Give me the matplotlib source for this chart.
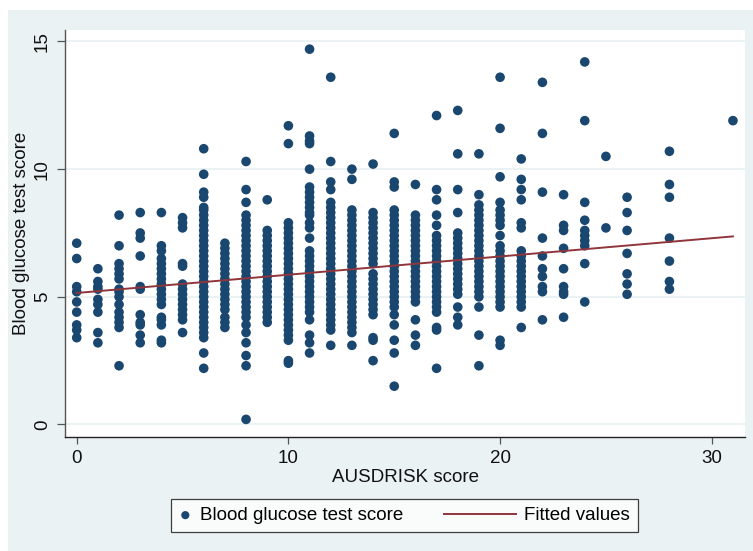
import numpy as np
import matplotlib
matplotlib.use("Agg")
import matplotlib.pyplot as plt
from matplotlib.patches import Rectangle
from matplotlib.lines import Line2D
from matplotlib.legend_handler import HandlerBase

# ---------------- data ----------------
scores = [0, 1, 2, 3, 4, 5, 6, 7, 8, 9, 10, 11, 12, 13, 14, 15, 16, 17, 18, 19,
          20, 21, 22, 23, 24, 25, 26, 28, 31]

glucose = [
    [7.1, 6.5, 5.4, 5.2, 4.8, 4.4, 3.9, 3.7, 3.4],
    [6.1, 5.6, 5.4, 5.3, 4.9, 4.7, 4.4, 3.6, 3.2],
    [8.2, 7.0, 6.3, 6.1, 5.9, 5.7, 5.3, 5.2, 5.0, 4.7, 4.4, 4.2, 4.0, 3.8, 2.3],
    [8.3, 7.5, 7.3, 6.6, 5.4, 5.3, 4.3, 4.0, 3.9, 3.5, 3.2],
    [8.3, 7.0, 6.8, 6.5, 6.3, 6.1, 5.9, 5.7, 5.5, 5.3, 5.1, 4.9, 4.7, 4.2, 4.1, 3.9, 3.3, 3.2],
    [8.1, 7.9, 7.7, 6.3, 6.2, 5.5, 5.3, 5.1, 4.9, 4.7, 4.5, 4.3, 4.1, 3.6],
    [10.8, 9.8, 9.1, 8.9, 8.5, 8.4, 8.2, 8.0, 7.8, 7.6, 7.4, 7.2, 7.0, 6.8, 6.6, 6.4, 6.2,
     6.0, 5.8, 5.6, 5.4, 5.2, 5.0, 4.8, 4.6, 4.4, 4.2, 4.0, 3.8, 3.6, 3.4, 2.8, 2.2],
    [7.1, 6.9, 6.7, 6.5, 6.3, 6.1, 5.9, 5.7, 5.5, 5.3, 5.1, 4.9, 4.7, 4.5, 4.2, 4.0, 3.8],
    [10.3, 9.2, 8.7, 8.2, 8.0, 7.8, 7.6, 7.4, 7.2, 7.0, 6.8, 6.6, 6.4, 6.2, 6.0, 5.8, 5.6,
     5.4, 5.2, 5.0, 4.8, 4.6, 4.4, 4.2, 3.9, 3.6, 3.2, 2.7, 2.3, 0.2],
    [8.8, 7.6, 7.4, 7.2, 7.0, 6.8, 6.6, 6.4, 6.2, 6.0, 5.8, 5.6, 5.4, 5.2, 5.0, 4.8, 4.6,
     4.4, 4.2, 4.0],
    [11.7, 11.0, 7.9, 7.7, 7.5, 7.3, 7.1, 6.9, 6.7, 6.5, 6.3, 6.1, 5.9, 5.7, 5.5, 5.3, 5.1,
     4.9, 4.7, 4.5, 4.3, 4.1, 3.9, 3.7, 3.5, 3.3, 2.5, 2.4],
    [14.7, 11.3, 11.1, 11.0, 10.0, 9.3, 9.1, 8.9, 8.7, 8.5, 8.3, 8.2, 7.9, 7.7, 7.3, 6.8,
     6.6, 6.4, 6.2, 6.0, 5.8, 5.6, 5.4, 5.2, 5.0, 4.8, 4.6, 4.4, 4.1, 3.5, 3.2, 2.8],
    [13.6, 10.3, 9.5, 9.2, 8.7, 8.5, 8.3, 8.1, 7.9, 7.7, 7.5, 7.3, 7.1, 6.9, 6.7, 6.5, 6.3,
     6.1, 5.9, 5.7, 5.5, 5.3, 5.1, 4.9, 4.7, 4.5, 4.3, 4.1, 3.9, 3.7, 3.1],
    [10.0, 9.6, 8.4, 8.2, 8.0, 7.8, 7.6, 7.4, 7.2, 7.0, 6.8, 6.6, 6.4, 6.2, 6.0, 5.8, 5.6,
     5.4, 5.2, 5.0, 4.8, 4.6, 4.4, 4.2, 4.0, 3.8, 3.6, 3.1],
    [10.2, 8.3, 8.1, 7.9, 7.7, 7.5, 7.3, 7.1, 6.9, 6.7, 6.5, 6.3, 5.9, 5.7, 5.5, 5.3, 5.1,
     4.9, 4.7, 4.5, 4.3, 3.4, 3.3, 2.5],
    [11.4, 9.5, 9.3, 8.4, 8.2, 8.0, 7.8, 7.6, 7.4, 7.2, 7.0, 6.8, 6.6, 6.4, 6.2, 6.0, 5.8,
     5.6, 5.4, 5.2, 5.0, 4.8, 4.6, 4.3, 3.9, 3.3, 2.8, 1.5],
    [9.4, 8.2, 8.0, 7.8, 7.6, 7.4, 7.2, 7.0, 6.8, 6.6, 6.4, 6.2, 6.0, 5.8, 5.6, 5.4, 5.2,
     5.0, 4.8, 4.1, 3.5, 3.1],
    [12.1, 9.2, 8.8, 8.2, 7.8, 7.4, 7.2, 7.0, 6.8, 6.6, 6.4, 6.2, 6.0, 5.8, 5.6, 5.4, 5.2,
     5.0, 4.8, 4.6, 4.4, 3.8, 3.7, 2.2],
    [12.3, 10.6, 9.2, 8.3, 7.5, 7.3, 7.1, 6.9, 6.7, 6.5, 6.3, 6.1, 5.9, 5.7, 5.5, 5.3, 5.1,
     4.6, 4.2, 3.9],
    [10.6, 9.0, 8.6, 8.4, 8.2, 8.0, 7.8, 7.6, 7.4, 7.2, 7.0, 6.8, 6.6, 6.4, 6.2, 6.0, 5.8,
     5.6, 5.4, 5.2, 5.0, 4.6, 3.5, 2.3],
    [13.6, 11.6, 9.7, 8.7, 8.4, 8.2, 8.0, 7.8, 7.4, 7.0, 6.8, 6.6, 6.4, 6.2, 6.0, 5.8, 5.6,
     5.4, 5.2, 5.0, 4.8, 4.6, 3.3, 3.1],
    [10.4, 9.6, 9.2, 8.8, 7.9, 7.7, 6.8, 6.6, 6.4, 6.2, 6.0, 5.8, 5.6, 5.4, 5.2, 5.0, 4.8,
     4.6, 3.8],
    [13.4, 11.4, 9.1, 7.3, 6.6, 6.1, 5.8, 5.4, 5.2, 4.1],
    [9.0, 7.8, 7.6, 6.9, 6.1, 5.4, 5.2, 5.1, 4.2],
    [14.2, 11.9, 8.7, 8.0, 7.6, 7.4, 7.2, 7.0, 6.3, 4.8],
    [10.5, 7.7],
    [8.9, 8.3, 7.6, 6.7, 5.9, 5.5, 5.1],
    [10.7, 9.4, 8.9, 7.3, 6.4, 5.6, 5.3],
    [11.9],
]

fit_intercept = 5.15
fit_slope = 0.0715
fit_range = [0, 31]

x_ticks = [0, 10, 20, 30]
y_ticks = [0, 5, 10, 15]

# ---------------- style ----------------
plt.rcParams['font.family'] = ['Liberation Sans', 'DejaVu Sans']
navy = '#1a476f'
maroon = '#90353b'
bg = '#eaf2f3'
fs = 13.5

W, H = 753, 551
fig = plt.figure(figsize=(W / 100, H / 100), dpi=100, facecolor='white')
fig.patches.append(Rectangle((8 / W, 0), 1 - 8 / W, (H - 10) / H,
                             transform=fig.transFigure, facecolor=bg,
                             edgecolor='none', zorder=-10))

ax_l, ax_r, ax_t, ax_b = 65, 745, 30, 437
ax = fig.add_axes([ax_l / W, (H - ax_b) / H, (ax_r - ax_l) / W, (ax_b - ax_t) / H])
ax.set_facecolor('white')

xs = np.concatenate([np.full(len(g), s) for s, g in zip(scores, glucose)])
ys = np.concatenate([np.array(g, dtype=float) for g in glucose])

sc = ax.scatter(xs, ys, s=48, color=navy, edgecolors='none', zorder=3,
                label='Blood glucose test score')
fx = np.array(fit_range, dtype=float)
ln, = ax.plot(fx, fit_intercept + fit_slope * fx, color=maroon, lw=1.4, zorder=4,
              label='Fitted values')

ax.set_xlim(-0.553, 31.57)
ax.set_ylim(-0.49, 15.45)
ax.set_xticks(x_ticks)
ax.set_yticks(y_ticks)
for yv in y_ticks:
    ax.axhline(yv, color=bg, lw=1.5, zorder=1)

for side in ['top', 'right']:
    ax.spines[side].set_visible(False)
ax.spines['left'].set_color('#555555')
ax.spines['bottom'].set_color('#222222')
ax.spines['left'].set_linewidth(1.0)
ax.spines['bottom'].set_linewidth(1.0)

ax.tick_params(axis='x', direction='out', length=5, width=0.9, color='#555555',
               labelsize=fs, pad=4.5, labelcolor='#111111')
ax.tick_params(axis='y', direction='out', length=5.5, width=0.9, color='#555555',
               labelsize=fs, pad=4.5, labelcolor='#111111')
for t in ax.get_yticklabels():
    t.set_rotation(90)
    t.set_va('center')

ax.set_xlabel('AUSDRISK score', fontsize=fs, color='#111111', labelpad=1)
ax.set_ylabel('Blood glucose test score', fontsize=fs, color='#111111', labelpad=3)


class LongLineHandler(HandlerBase):
    def create_artists(self, legend, orig_handle, xdescent, ydescent, width, height,
                       fontsize, trans):
        length = 52.0
        y = height / 2 - ydescent
        x1 = width - xdescent
        line = Line2D([x1 - length, x1], [y, y], color=orig_handle.get_color(),
                      lw=orig_handle.get_linewidth())
        line.set_transform(trans)
        return [line]


leg = fig.legend([sc, ln], ['Blood glucose test score', 'Fitted values'],
                 handler_map={Line2D: LongLineHandler()},
                 loc='center', bbox_to_anchor=(404.5 / W, (H - 515.5) / H),
                 ncol=2, fontsize=fs, frameon=True, fancybox=False,
                 handlelength=0.7, handletextpad=0.45, columnspacing=5.3,
                 borderpad=0.42, markerscale=0.85, scatterpoints=1)
leg.get_frame().set_edgecolor('#111111')
leg.get_frame().set_linewidth(0.9)
leg.get_frame().set_facecolor('white')

fig.savefig('out.png', dpi=100, facecolor=fig.get_facecolor())
